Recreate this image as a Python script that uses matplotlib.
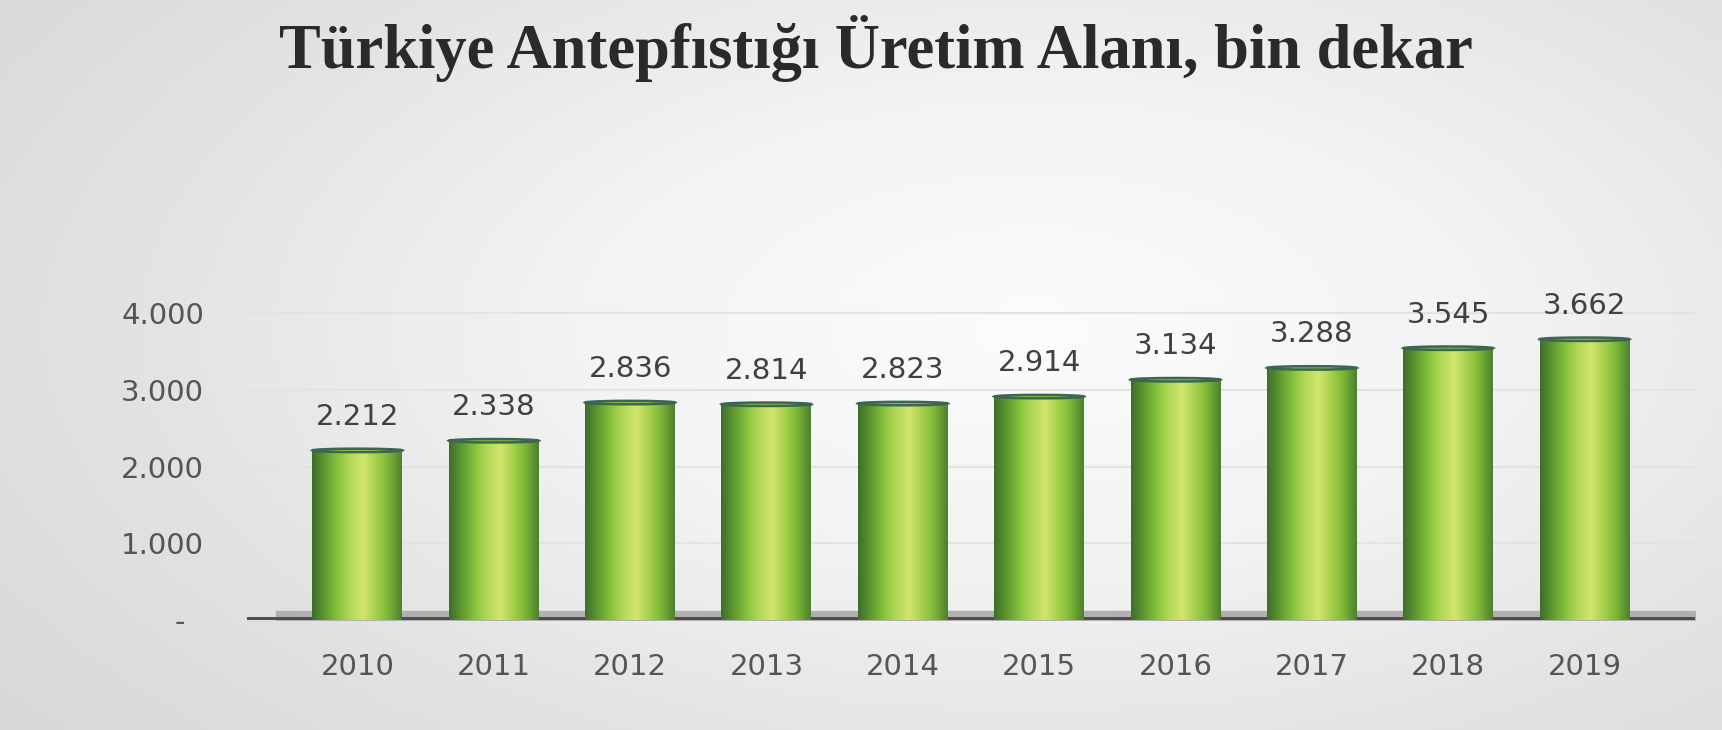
import numpy as np
import matplotlib
matplotlib.use("Agg")
import matplotlib.pyplot as plt
from matplotlib.colors import LinearSegmentedColormap
from matplotlib.patches import Ellipse

years = ["2010", "2011", "2012", "2013", "2014", "2015", "2016", "2017", "2018", "2019"]
values = [2212, 2338, 2836, 2814, 2823, 2914, 3134, 3288, 3545, 3662]
value_labels = ["2.212", "2.338", "2.836", "2.814", "2.823", "2.914", "3.134", "3.288", "3.545", "3.662"]
yticks = [0, 1000, 2000, 3000, 4000]
ytick_labels = ["-  ", "1.000", "2.000", "3.000", "4.000"]
title = "Türkiye Antepfıstığı Üretim Alanı, bin dekar"

W, H = 1722, 730
fig = plt.figure(figsize=(W / 100, H / 100), dpi=100)

# background gradient
bg = fig.add_axes([0, 0, 1, 1], zorder=-10)
yy, xx = np.mgrid[0:1:200j, 0:1:400j]
r = np.sqrt(((xx - 0.6) / 0.8) ** 2 + ((yy - 0.45) / 0.95) ** 2)
bgcmap = LinearSegmentedColormap.from_list("bg", ["#fcfcfc", "#f3f3f3", "#e2e2e2", "#d6d6d6"])
bg.imshow(np.clip(r, 0, 1), cmap=bgcmap, aspect="auto", extent=(0, 1, 0, 1), vmin=0, vmax=1)
bg.axis("off")

ax = fig.add_axes([247 / W, 110 / H, (1695 - 247) / W, 345 / H])
ax.set_facecolor("none")
x = np.arange(len(years))
bw = 0.66

# gridlines
for t in yticks[1:]:
    ax.axhline(t, color="#e3e3e3", lw=1.6, zorder=0)

# floor
ax.fill_between([-0.6, 9.81], [0, 0], [120, 120], color="#b0b0b0", zorder=1)
ax.axhline(0, color="#4d4d4d", lw=5, zorder=2)

cyl = LinearSegmentedColormap.from_list(
    "cyl", ["#3f6d2c", "#5e9a30", "#86c23c", "#b3d957", "#d2e56f", "#a6d04c", "#79b536", "#4e7f2f"])
grad = np.linspace(0, 1, 256).reshape(1, -1)

bars = ax.bar(x, values, width=bw, color="#8cc63f", edgecolor="none", zorder=3)
for b, v in zip(bars, values):
    im = ax.imshow(grad, cmap=cyl, aspect="auto", zorder=4,
                   extent=(b.get_x(), b.get_x() + b.get_width(), 0, v))
    im.set_clip_path(b)
    ax.add_patch(Ellipse((b.get_x() + b.get_width() / 2, v), b.get_width(), 45,
                         facecolor="#8dc440", edgecolor="#3d6650", lw=1.8, zorder=5))

for xi, v, lab in zip(x, values, value_labels):
    ax.annotate(lab, (xi, v), xytext=(0, 14), textcoords="offset points",
                ha="center", va="bottom", fontsize=21, color="#404040", zorder=6)

ax.set_xlim(-0.81, 9.81)
ax.set_ylim(0, 4500)
ax.set_yticks(yticks)
ax.set_yticklabels(ytick_labels)
ax.set_xticks(x)
ax.set_xticklabels(years)
ax.tick_params(axis="both", length=0, labelsize=21, labelcolor="#555555")
ax.tick_params(axis="x", pad=24)
ax.tick_params(axis="y", pad=31)
for s in ax.spines.values():
    s.set_visible(False)

fig.text(876 / W, 1 - 49 / H, title, ha="center", va="center",
         fontsize=45, fontweight="bold", family="Liberation Serif", color="#2a2a2a")

fig.savefig("out.png", dpi=100)
